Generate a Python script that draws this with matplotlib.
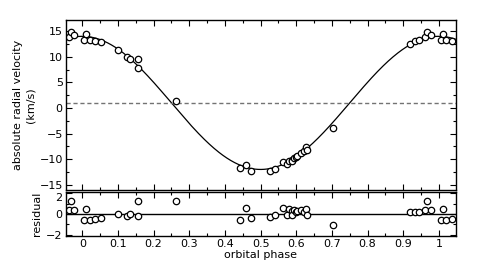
import numpy as np
import matplotlib
matplotlib.use('Agg')
import matplotlib.pyplot as plt
from matplotlib.ticker import MultipleLocator

# orbital phase of each observation (0..1), velocity (km/s) and residual (km/s)
phase = [0.005, 0.011, 0.021, 0.037, 0.053, 0.101, 0.125, 0.134, 0.157, 0.157,
         0.262, 0.443, 0.458, 0.472, 0.526, 0.540, 0.563, 0.573, 0.579, 0.587,
         0.589, 0.593, 0.598, 0.603, 0.612, 0.621, 0.628, 0.629, 0.703, 0.918,
         0.934, 0.945, 0.962, 0.968, 0.977]
velocity = [13.35, 14.4, 13.3, 13.1, 12.8, 11.4, 9.9, 9.6, 9.5, 7.9,
            1.4, -11.8, -11.1, -12.4, -12.3, -11.9, -10.6, -11.0, -10.3, -10.1,
            -10.4, -9.8, -9.6, -9.3, -8.8, -8.4, -7.7, -8.2, -4.0, 12.5,
            13.0, 13.3, 13.9, 14.9, 14.2]
residual = [-0.56, 0.49, -0.53, -0.45, -0.36, 0.0, -0.22, 0.0, 1.24, -0.2,
            1.24, -0.53, 0.56, -0.43, -0.25, -0.1, 0.56, -0.13, 0.44, 0.25,
            -0.13, 0.34, 0.22, 0.25, 0.37, 0.22, 0.47, -0.13, -1.09, 0.19,
            0.22, 0.19, 0.34, 1.24, 0.37]

# fitted orbit
gamma = 1.0     # systemic velocity
K = 13.0        # semi-amplitude

xlim = (-0.047, 1.047)

phase = np.array(phase); velocity = np.array(velocity); residual = np.array(residual)
# repeat the points one cycle either side so the wrapped ends show
ph_all = np.concatenate([phase - 1, phase, phase + 1])
v_all = np.tile(velocity, 3)
r_all = np.tile(residual, 3)
keep = (ph_all > xlim[0]) & (ph_all < xlim[1])
ph_all = ph_all[keep]; v_all = v_all[keep]; r_all = r_all[keep]

ph_model = np.linspace(xlim[0], xlim[1], 400)
v_model = gamma + K * np.cos(2 * np.pi * ph_model)

plt.rcParams['font.family'] = 'DejaVu Sans'
plt.rcParams['font.size'] = 8

fig = plt.figure(figsize=(5.04, 2.66), dpi=100)
ax = fig.add_axes([0.130, 0.286, 0.774, 0.639])
axr = fig.add_axes([0.130, 0.113, 0.774, 0.165])

mk = dict(ls='none', marker='o', ms=4.6, mfc='white', mec='black', mew=0.9)

ax.plot(ph_model, v_model, color='black', lw=0.9)
ax.axhline(gamma, color='0.45', ls='--', lw=1, dashes=(3, 2))
ax.plot(ph_all, v_all, **mk)
ax.set_xlim(xlim)
ax.set_ylim(-16, 17.2)
ax.yaxis.set_major_locator(MultipleLocator(5))
ax.yaxis.set_minor_locator(MultipleLocator(2.5))
ax.xaxis.set_major_locator(MultipleLocator(0.1))
ax.xaxis.set_minor_locator(MultipleLocator(0.05))
ax.set_xticklabels([])
ax.set_ylabel('absolute radial velocity\n(km/s)', labelpad=3, linespacing=1.3)

axr.axhline(0, color='black', lw=1)
axr.plot(ph_all, r_all, **mk)
axr.set_xlim(xlim)
axr.set_ylim(-2.1, 2.1)
axr.set_yticks([-2, 0, 2])
axr.set_yticklabels(['\u22122', '0', '2'])
axr.get_yticklabels()[2].set_va('top')
axr.yaxis.set_minor_locator(MultipleLocator(1))
axr.set_xticks(np.arange(0, 1.01, 0.1))
axr.xaxis.set_minor_locator(MultipleLocator(0.05))
axr.set_xticklabels(['0', '0.1', '0.2', '0.3', '0.4', '0.5', '0.6', '0.7', '0.8', '0.9', '1'])
axr.set_xlabel('orbital phase', labelpad=1)
axr.set_ylabel('residual', labelpad=3)

for a in (ax, axr):
    a.tick_params(which='both', direction='in', top=True, right=True, width=0.8, pad=2)
    a.tick_params(which='major', length=4)
    a.tick_params(which='minor', length=2)
    for s in a.spines.values():
        s.set_linewidth(1)

fig.savefig('out.png', dpi=100)
